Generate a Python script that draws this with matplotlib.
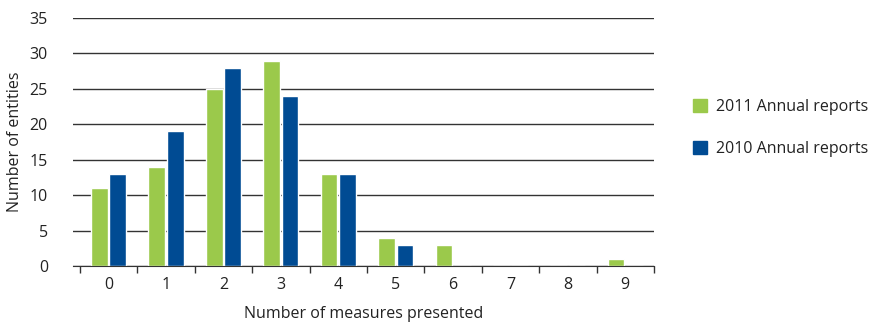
import numpy as np
import matplotlib.pyplot as plt
from matplotlib.patches import Patch

plt.rcParams['font.family'] = ['Open Sans', 'DejaVu Sans']

measures = [0, 1, 2, 3, 4, 5, 6, 7, 8, 9]
reports_2011 = [11, 14, 25, 29, 13, 4, 3, 0, 0, 1]
reports_2010 = [13, 19, 28, 24, 13, 3, 0, 0, 0, 0]

green = '#9bc94b'
blue = '#004b93'
txt = '#222222'

fig = plt.figure(figsize=(8.77, 3.22), dpi=100)
ax = fig.add_axes([73/877, 1-266/322, (654-73)/877, (266-18)/322])

x = np.arange(len(measures))
w = 0.29
ax.bar(x - 0.16, reports_2011, w, color=green, edgecolor='white', linewidth=1, zorder=3)
ax.bar(x + 0.16, reports_2010, w, color=blue, edgecolor='white', linewidth=1, zorder=3)

ax.set_xlim(-0.62, 9.5)
ax.set_ylim(0, 35)
ax.set_yticks(range(0, 36, 5))
ax.grid(axis='y', color='#333333', linewidth=1, zorder=0)

# category labels in the middle, tick marks on the boundaries
ax.set_xticks(x)
ax.set_xticklabels([str(m) for m in measures])
ax.set_xticks(np.arange(-0.5, 9.6, 1), minor=True)
ax.tick_params(axis='x', which='major', length=0, pad=8, labelsize=11.5, colors=txt)
ax.tick_params(axis='x', which='minor', length=5, width=1, color='#333333', direction='out')
ax.tick_params(axis='y', length=0, pad=18, labelsize=11.5, colors=txt)

for s in ['top', 'right', 'left']:
    ax.spines[s].set_visible(False)
ax.spines['bottom'].set_color('#333333')
ax.spines['bottom'].set_zorder(4)

ax.set_xlabel('Number of measures presented', fontsize=11.5, color=txt, labelpad=9)
fig.text(15/877, 1-142/322, 'Number of entities', rotation=90, ha='center', va='center',
         fontsize=11.5, color=txt)

handles = [Patch(color=green), Patch(color=blue)]
fig.legend(handles, ['2011 Annual reports', '2010 Annual reports'], loc='center left',
           bbox_to_anchor=(679/877, 1-128/322), frameon=False, fontsize=11.5,
           handlelength=0.85, handleheight=0.85, handletextpad=0.55, labelspacing=1.65,
           labelcolor=txt)

fig.savefig('out.png', dpi=100)
